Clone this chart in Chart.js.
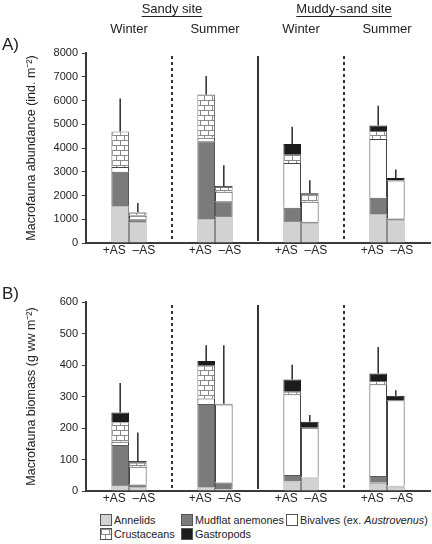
<!DOCTYPE html>
<html>
<head>
<meta charset="utf-8">
<script src="https://cdn.jsdelivr.net/npm/chart.js@4"></script>
<style>
  body { margin: 0; background: #fff; font-family: "Liberation Sans", Arial, sans-serif; }
  #page { position: relative; width: 432px; height: 544px; overflow: hidden; }
  .panel { position: absolute; left: 0; width: 432px; }
  #legend { position: absolute; left: 100px; top: 514px; font-size: 10.8px; color: #222; }
  .row { position: absolute; white-space: nowrap; height: 13px; line-height: 13px; }
  .item { position: absolute; top: 0; white-space: nowrap; }
  .sw { display: inline-block; width: 10px; height: 10px; border: 1px solid #555; vertical-align: -2px; margin-right: 2px; }
</style>
</head>
<body>
<div id="page">
  <div class="panel" style="top:0;height:264px"><canvas id="chartA"></canvas></div>
  <div class="panel" style="top:270px;height:242px"><canvas id="chartB"></canvas></div>
  <div id="legend"></div>
</div>
<script>
const groups = ['Sandy winter', 'Sandy summer', 'Muddy-sand winter', 'Muddy-sand summer'];
const seasons = ['Winter', 'Summer', 'Winter', 'Summer'];
const sites = ['Sandy site', 'Muddy-sand site'];
const treatments = ['+AS', '\u2013AS'];
const species = ['Annelids', 'Mudflat anemones', 'Bivalves (ex. Austrovenus)', 'Crustaceans', 'Gastropods'];

// abundance (ind. m-2), +AS and -AS per group
const abAnnelidsPlus = [1550, 1000, 930, 1210];
const abAnnelidsMinus = [870, 1140, 830, 960];
const abAnemonesPlus = [1450, 3280, 550, 700];
const abAnemonesMinus = [130, 615, 60, 70];
const abBivalvesPlus = [200, 150, 1890, 2470];
const abBivalvesMinus = [150, 400, 850, 1600];
const abCrustPlus = [1500, 1820, 380, 340];
const abCrustMinus = [120, 200, 290, 0];
const abGastroPlus = [0, 0, 420, 225];
const abGastroMinus = [30, 45, 70, 110];
const abErrTopPlus = [6080, 7030, 4900, 5780];
const abErrTopMinus = [1680, 3270, 2640, 3090];
const abTicks = [0, 1000, 2000, 3000, 4000, 5000, 6000, 7000, 8000];

// biomass (g ww m-2)
const bmAnnelidsPlus = [19, 12, 30, 26];
const bmAnnelidsMinus = [12, 5, 43, 14];
const bmAnemonesPlus = [127, 264, 21, 22];
const bmAnemonesMinus = [9, 22, 1, 3];
const bmBivalvesPlus = [10, 18, 256, 291];
const bmBivalvesMinus = [56, 248, 157, 271];
const bmCrustPlus = [62, 104, 8, 10];
const bmCrustMinus = [13, 0, 0, 0];
const bmGastroPlus = [31, 15, 39, 24];
const bmGastroMinus = [5, 2, 19, 14];
const bmErrTopPlus = [343, 463, 401, 457];
const bmErrTopMinus = [186, 463, 241, 320];
const bmTicks = [0, 100, 200, 300, 400, 500, 600];

const FONT = '"Liberation Sans", Arial, sans-serif';
const INK = '#3a3a3a';

// brick pattern for crustaceans
function makeBrick() {
    const c = document.createElement('canvas');
    c.width = 8; c.height = 10;
    const g = c.getContext('2d');
    g.fillStyle = '#fff'; g.fillRect(0, 0, 8, 10);
    g.strokeStyle = '#8a8a8a'; g.lineWidth = 1;
    g.beginPath();
    g.moveTo(0, 0.5); g.lineTo(8, 0.5);
    g.moveTo(0, 5.5); g.lineTo(8, 5.5);
    g.moveTo(0.5, 0); g.lineTo(0.5, 5);
    g.moveTo(4.5, 5); g.lineTo(4.5, 10);
    g.stroke();
    return c;
}
const brickTile = makeBrick();
const brick = document.createElement('canvas').getContext('2d').createPattern(brickTile, 'repeat');
const fills = ['#d2d2d2', '#7b7b7b', '#ffffff', brick, '#1c1c1c'];
const borders = ['#8c8c8c', '#5a5a5a', '#444', '#777', '#1c1c1c'];

function buildDatasets(plus, minus) {
    const ds = [];
    [['plus', plus], ['minus', minus]].forEach(([stack, arrs]) => {
        arrs.forEach((arr, i) => {
            ds.push({
                label: species[i], data: arr, stack: stack,
                backgroundColor: fills[i], borderColor: borders[i], borderWidth: 1,
                categoryPercentage: 0.41, barPercentage: 1.0
            });
        });
    });
    return ds;
}

function panelPlugin(letter, errPlus, errMinus, header) {
    return {
        id: 'panel' + letter,
        beforeDatasetsDraw(chart) {
            const {ctx, chartArea, scales: {x}} = chart;
            ctx.save();
            ctx.strokeStyle = '#333';
            ctx.lineWidth = 2;
            for (let i = 0; i < groups.length - 1; i++) {
                const px = Math.round((x.getPixelForValue(i) + x.getPixelForValue(i + 1)) / 2);
                ctx.setLineDash(i === 1 ? [] : [3, 3]);
                ctx.beginPath();
                ctx.moveTo(px, chartArea.top + 3);
                ctx.lineTo(px, chartArea.bottom - 2);
                ctx.stroke();
            }
            ctx.restore();
        },
        afterDatasetsDraw(chart) {
            const {ctx, scales: {y}} = chart;
            ctx.save();
            ctx.strokeStyle = '#2a2a2a';
            ctx.lineWidth = 1.5;
            [[4, errPlus], [9, errMinus]].forEach(([di, errs]) => {
                const meta = chart.getDatasetMeta(di);
                meta.data.forEach((bar, j) => {
                    let total = 0;
                    for (let k = di - 4; k <= di; k++) total += chart.data.datasets[k].data[j];
                    ctx.beginPath();
                    ctx.moveTo(bar.x, y.getPixelForValue(total));
                    ctx.lineTo(bar.x, y.getPixelForValue(errs[j]));
                    ctx.stroke();
                });
            });
            ctx.restore();
        },
        afterDraw(chart) {
            const {ctx, chartArea, scales: {x}} = chart;
            ctx.save();
            ctx.fillStyle = '#222';
            ctx.font = '17px ' + FONT;
            ctx.textAlign = 'left';
            ctx.textBaseline = 'middle';
            ctx.fillText(letter + ')', 2, chartArea.top - 8);
            if (header) {
                ctx.font = '13px ' + FONT;
                ctx.textAlign = 'center';
                seasons.forEach((s, i) => ctx.fillText(s, x.getPixelForValue(i), 29));
                sites.forEach((s, k) => {
                    const cx = (x.getPixelForValue(2 * k) + x.getPixelForValue(2 * k + 1)) / 2;
                    ctx.fillText(s, cx, 9);
                    const w = ctx.measureText(s).width;
                    ctx.fillRect(cx - w / 2, 16, w, 1);
                });
            }
            ctx.restore();
        }
    };
}

function makeChart(id, plus, minus, ticks, title, letter, errPlus, errMinus, header, topPad) {
    const maxV = ticks[ticks.length - 1];
    return new Chart(document.getElementById(id), {
        type: 'bar',
        data: { labels: groups, datasets: buildDatasets(plus, minus) },
        options: {
            responsive: true,
            maintainAspectRatio: false,
            animation: false,
            layout: { padding: { top: topPad, right: 2, left: 0, bottom: 0 } },
            plugins: { legend: { display: false }, tooltip: { enabled: false } },
            scales: {
                x: {
                    stacked: true,
                    grid: { display: false, drawTicks: false },
                    border: { display: true, color: INK, width: 2 },
                    ticks: {
                        padding: 0, color: '#222', font: { family: FONT, size: 12 },
                        maxRotation: 0, autoSkip: false,
                        callback: () => treatments.join('  ')
                    },
                    afterFit(scale) { scale.height = 21; }
                },
                y: {
                    stacked: true,
                    min: 0, max: maxV,
                    afterBuildTicks(scale) { scale.ticks = ticks.map(v => ({value: v})); },
                    grid: { drawOnChartArea: false, drawTicks: true, tickLength: 4, color: INK, lineWidth: 1 },
                    border: { display: true, color: INK, width: 2 },
                    ticks: {
                        padding: 4, color: '#222', font: { family: FONT, size: 11 },
                        callback: v => String(v)
                    },
                    title: {
                        display: true, text: title, color: '#222',
                        font: { family: FONT, size: 12.5 },
                        padding: { top: 24, bottom: 0 }
                    },
                    afterFit(scale) { scale.width = 86; }
                }
            }
        },
        plugins: [panelPlugin(letter, errPlus, errMinus, header)]
    });
}

makeChart('chartA',
    [abAnnelidsPlus, abAnemonesPlus, abBivalvesPlus, abCrustPlus, abGastroPlus],
    [abAnnelidsMinus, abAnemonesMinus, abBivalvesMinus, abCrustMinus, abGastroMinus],
    abTicks, 'Macrofauna abundance (ind. m\u207B\u00B2)', 'A', abErrTopPlus, abErrTopMinus, true, 53);

makeChart('chartB',
    [bmAnnelidsPlus, bmAnemonesPlus, bmBivalvesPlus, bmCrustPlus, bmGastroPlus],
    [bmAnnelidsMinus, bmAnemonesMinus, bmBivalvesMinus, bmCrustMinus, bmGastroMinus],
    bmTicks, 'Macrofauna biomass (g ww m\u207B\u00B2)', 'B', bmErrTopPlus, bmErrTopMinus, false, 32);

// legend
const legendRows = [[0, 1, 2], [3, 4]];
const itemLeft = [0, 81, 186];
const legend = document.getElementById('legend');
const brickUrl = brickTile.toDataURL();
legendRows.forEach((row, r) => {
    const rowEl = document.createElement('div');
    rowEl.className = 'row';
    rowEl.style.top = (r * 13.5) + 'px';
    row.forEach((si, k) => {
        const it = document.createElement('span');
        it.className = 'item';
        it.style.left = itemLeft[k] + 'px';
        const sw = document.createElement('span');
        sw.className = 'sw';
        if (si === 3) sw.style.background = 'url(' + brickUrl + ')';
        else sw.style.background = fills[si];
        it.appendChild(sw);
        const label = document.createElement('span');
        if (si === 2) label.innerHTML = 'Bivalves (ex. <i>Austrovenus</i>)';
        else label.textContent = species[si];
        it.appendChild(label);
        rowEl.appendChild(it);
    });
    legend.appendChild(rowEl);
});
</script>
</body>
</html>
